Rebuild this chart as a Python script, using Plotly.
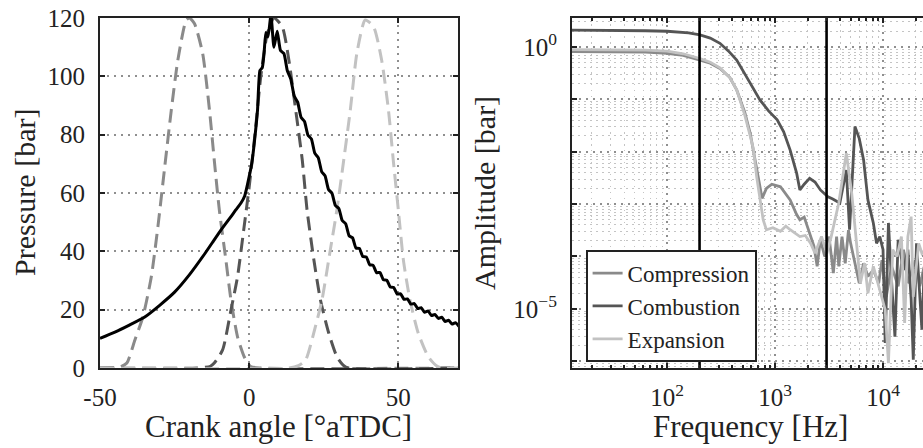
import numpy as np
import plotly.graph_objects as go

# ---------------- Left panel data (crank angle vs pressure) ----------------
pressure_angle = [-50, -45, -40, -35, -30, -25, -20, -15, -12, -10, -8, -6.1, -4.5, -2.8, -1.5,
                  0, 1, 1.7, 2.8, 3.6, 4.4, 5.0, 5.6, 6.3, 7.3, 8.3, 9.4,
                  10.5, 11.65, 12.8, 13.95, 15.1, 16.25, 17.4, 18.55, 19.7, 20.85, 22.0, 23.15,
                  24.3, 25.45, 26.6, 27.75, 28.9, 30.05, 31.2, 32.35, 33.5, 34.65, 35.8, 36.95,
                  38.1, 39.25, 40.4, 41.55, 42.7, 43.85, 45.0, 46.15, 47.3, 48.45, 49.6, 50.75,
                  51.9, 53.05, 54.2, 55.35, 56.5, 57.65, 58.8, 59.95, 61.1, 62.25, 63.4, 64.55,
                  65.7, 66.85, 68.0, 69.15, 70.3]
pressure_bar = [10.2, 12.3, 14.8, 17.5, 21.5, 26, 32, 39, 43.5, 46.5, 49.3, 51.9, 54.2, 56.5, 59,
                65.6, 71, 77, 88.4, 102, 103, 108, 115, 113.5, 121, 110, 115.5,
                108.85, 107.8, 101.9, 99.1, 93.25, 91.15, 85.9, 84.5, 79.85, 78.55, 73.65, 72.15,
                67.35, 65.85, 61.2, 59.9, 55.7, 54.7, 50.55, 49.45, 45.35, 44.65, 41.15, 41.0,
                38.2, 38.1, 35.4, 35.2, 32.7, 32.75, 30.25, 30.1, 27.75, 27.6, 25.35, 25.45,
                23.55, 23.7, 21.9, 22.1, 20.4, 20.7, 19.1, 19.55, 18.0, 18.35, 17.0, 17.4,
                15.95, 16.4, 15.05, 15.55, 14.25]

win_comp_angle = [-50, -46, -43, -41, -38.3, -35.6, -32.8, -30.6, -28.3, -26.1, -23.9, -21.1, -20,
                  -18.3, -15.6, -13.3, -11.7, -10, -7.8, -6.1, -3.9, -1.5, 0.5, 4, 70]
win_comp_val = [0, 0, 0.5, 1.7, 9.6, 17.6, 31.3, 48.4, 69, 88.4, 105.6, 119.3, 120,
                118, 107.9, 88.4, 71.3, 54.2, 37, 23.3, 10.7, 3.5, 0.5, 0, 0]

win_comb_angle = [-50, -17.3, -13, -11.7, -8.9, -6.1, -3.9, -1.7, 0, 2.2, 3.9, 6.1, 8.3,
                  11.1, 13.3, 15.6, 17.8, 19.4, 21.7, 23.9, 26.7, 29.4, 31.5, 33.3, 70]
win_comb_val = [0, 0, 0.6, 1.7, 6.2, 19.9, 31.3, 48.4, 62, 82.7, 100, 114.7, 120,
                117, 105.6, 88.4, 71.3, 54.2, 37, 23.3, 11.9, 3.9, 1.0, 0, 0]

win_exp_angle = [-50, 13.3, 16.5, 18.9, 22.2, 24.4, 27.2, 29.4, 31.7, 33.9, 36.1, 38.9,
                 41.7, 44.4, 46.7, 48.3, 50, 51.7, 53.9, 56.7, 60, 62.5, 64.4, 70]
win_exp_val = [0, 0, 0.8, 2.7, 14.2, 23.3, 40.5, 54.2, 71.3, 88.4, 107.9, 119.3,
               117, 105.6, 88.4, 71.3, 54.2, 37, 23.3, 11.9, 3.9, 1.0, 0, 0]

# ---------------- Right panel data (log10 frequency / log10 amplitude) ----------------
comp_log_f = [1.12, 1.5, 1.8, 2.0, 2.15, 2.305, 2.4, 2.49, 2.58, 2.645, 2.72, 2.77, 2.82, 2.85,
              2.88, 2.92, 2.97, 3.05, 3.14, 3.20, 3.23, 3.27, 3.32, 3.36, 3.39, 3.42, 3.46,
              3.50, 3.54, 3.57, 3.59, 3.62, 3.65, 3.68, 3.70, 3.74, 3.78, 3.82, 3.86, 3.91,
              3.96, 3.99, 4.03, 4.08, 4.14, 4.19, 4.23, 4.30, 4.34, 4.38]
comp_log_a = [-0.09, -0.09, -0.10, -0.12, -0.16, -0.25, -0.31, -0.41, -0.58, -0.82, -1.25, -1.65,
              -2.25, -2.6, -2.89, -2.70, -2.62, -2.67, -2.92, -3.20, -3.30, -3.25, -3.56, -3.80,
              -4.19, -3.68, -4.0, -3.62, -4.32, -3.62, -4.19, -3.62, -4.13, -3.5, -3.75, -4.13,
              -4.51, -4.13, -4.38, -4.26, -4.51, -4.07, -4.77, -4.19, -4.57, -3.87, -4.51, -4.07,
              -4.57, -4.2]

comb_log_f = [1.12, 1.5, 1.8, 2.0, 2.2, 2.305, 2.4, 2.49, 2.57, 2.645, 2.71, 2.77, 2.86, 2.94,
              3.02, 3.08, 3.14, 3.20, 3.23, 3.27, 3.32, 3.37, 3.42, 3.49, 3.53, 3.57, 3.60,
              3.66, 3.69, 3.74, 3.78, 3.82, 3.86, 3.91, 3.94, 3.97, 4.00, 4.02, 4.05, 4.08,
              4.11, 4.14, 4.19, 4.23, 4.26, 4.28, 4.31, 4.36, 4.38]
comb_log_a = [0.32, 0.32, 0.31, 0.30, 0.27, 0.23, 0.17, 0.07, -0.08, -0.25, -0.47, -0.69, -1.01,
              -1.22, -1.39, -1.62, -1.97, -2.41, -2.73, -2.62, -2.51, -2.58, -2.73, -2.86, -2.90,
              -2.95, -2.98, -2.35, -3.49, -1.52, -1.75, -2.16, -2.92, -3.36, -3.75, -3.62, -3.87,
              -5.65, -3.36, -4.5, -5.53, -3.68, -4.26, -3.87, -4.8, -5.97, -3.75, -5.40, -4.3]

exp_log_f = [1.12, 1.5, 1.8, 2.0, 2.15, 2.305, 2.4, 2.49, 2.58, 2.645, 2.72, 2.77, 2.80, 2.83,
             2.86, 2.89, 2.92, 2.98, 3.05, 3.10, 3.14, 3.18, 3.23, 3.28, 3.33, 3.37, 3.43,
             3.48, 3.52, 3.59, 3.66, 3.71, 3.76, 3.79, 3.83, 3.86, 3.91, 3.97, 4.02, 4.05,
             4.09, 4.13, 4.17, 4.20, 4.23, 4.26, 4.28, 4.33, 4.36, 4.38]
exp_log_a = [-0.05, -0.05, -0.06, -0.08, -0.13, -0.22, -0.29, -0.40, -0.58, -0.82, -1.30, -1.70,
             -1.95, -2.48, -2.92, -3.30, -3.49, -3.45, -3.52, -3.42, -3.49, -3.55, -3.62, -3.60,
             -3.75, -3.94, -3.62, -3.94, -3.62, -2.98, -2.03, -2.79, -3.87, -4.51, -4.13, -4.70,
             -4.19, -4.64, -5.02, -6.04, -3.87, -4.0, -3.62, -5.27, -3.62, -3.24, -4.77, -3.75,
             -3.94, -3.9]

cutoff_freqs_hz = [200, 3000]

series_names = ["Compression", "Combustion", "Expansion"]
series_colors = ["#8a8a8a", "#555555", "#c2c2c2"]

FONT = "Liberation Serif"
W, H = 923, 448
ML, MR, MT, MB = 0, 0, 18, 80
PH = H - MT - MB

fig = go.Figure()

# Left panel windows
for ang, val, col in [(win_comp_angle, win_comp_val, series_colors[0]),
                      (win_comb_angle, win_comb_val, series_colors[1]),
                      (win_exp_angle, win_exp_val, series_colors[2])]:
    fig.add_trace(go.Scatter(x=ang, y=val, mode="lines", showlegend=False,
                             line=dict(color=col, width=3, dash="14px,7px", shape="spline", smoothing=0.6),
                             xaxis="x", yaxis="y"))
fig.add_trace(go.Scatter(x=pressure_angle, y=pressure_bar, mode="lines", showlegend=False,
                         line=dict(color="#000000", width=3, shape="spline", smoothing=0.5),
                         xaxis="x", yaxis="y"))

# Right panel spectra
for lf, la, name, col in [(comp_log_f, comp_log_a, series_names[0], series_colors[0]),
                          (comb_log_f, comb_log_a, series_names[1], series_colors[1]),
                          (exp_log_f, exp_log_a, series_names[2], series_colors[2])]:
    fig.add_trace(go.Scatter(x=10 ** np.array(lf), y=10 ** np.array(la), mode="lines", name=name,
                             line=dict(color=col, width=2.8), xaxis="x2", yaxis="y2"))

for fc in cutoff_freqs_hz:
    fig.add_trace(go.Scatter(x=[fc, fc], y=[1e-8, 1e2], mode="lines", showlegend=False,
                             line=dict(color="#000000", width=2.6), xaxis="x2", yaxis="y3"))

tickfont = dict(family=FONT, size=25, color="#222222")
axis_common = dict(showline=True, linecolor="#222222", linewidth=2.2, ticks="inside",
                   ticklen=5, tickwidth=1.5, tickcolor="#222222", mirror="ticks",
                   zeroline=False, tickfont=tickfont, showgrid=True, automargin=False,
                   gridcolor="#8f8f8f", gridwidth=1.6, griddash="2px,5px")

minor_x = [m * 10 ** e for e in range(1, 5) for m in range(2, 10)]
minor_y = [m * 10.0 ** e for e in range(-7, 1) for m in range(2, 10)]
decades_y = [1e-6, 1e-5, 1e-4, 1e-3, 1e-2, 1e-1, 1]

fig.update_layout(
    width=W, height=H, margin=dict(l=ML, r=MR, t=MT, b=MB, autoexpand=False),
    paper_bgcolor="white", plot_bgcolor="white",
    font=dict(family=FONT, color="#222222"),
    xaxis=dict(domain=[100 / W, 458 / W], range=[-50, 70], tickmode="array",
               tickvals=[-50, 0, 50], ticktext=["-50", "0", "50"], anchor="y",
               ticklabelstandoff=6, **axis_common),
    yaxis=dict(domain=[0, 1], range=[0, 120], tickmode="array",
               tickvals=[0, 20, 40, 60, 80, 100, 120], anchor="x",
               ticklabelstandoff=8, **axis_common),
    xaxis2=dict(domain=[572 / W, 1.0], type="log", range=[1.12, 4.37], anchor="y2",
                tickmode="array", tickvals=[100, 1000, 10000],
                ticktext=["10<sup>2</sup>", "10<sup>3</sup>", "10<sup>4</sup>"],
                ticklabelstandoff=6,
                minor=dict(tickmode="array", tickvals=minor_x, ticks="inside", ticklen=3,
                           tickcolor="#222222", showgrid=True, gridcolor="#c4c4c4",
                           gridwidth=1.2, griddash="1.5px,4.5px"),
                **axis_common),
    yaxis2=dict(domain=[0, 1], type="log", range=[-6.13, 0.553], anchor="x2",
                tickmode="array", tickvals=[1e-5, 1],
                ticktext=["10<sup>−5</sup>", "10<sup>0</sup>"],
                ticklabelstandoff=8,
                minor=dict(tickmode="array", tickvals=minor_y, showgrid=True,
                           gridcolor="#c4c4c4", gridwidth=1.2, griddash="1.5px,4.5px"),
                showline=True, linecolor="#222222", linewidth=2.2, ticks="",
                mirror=False, automargin=False,
                zeroline=False, tickfont=tickfont, showgrid=False),
    yaxis3=dict(domain=[0, 1], type="log", range=[-6.13, 0.553], anchor="x2",
                overlaying="y2", side="left", tickmode="array", tickvals=decades_y,
                showticklabels=False, ticks="inside", ticklen=5, tickwidth=1.5,
                tickcolor="#222222", showline=False, mirror=False, automargin=False,
                zeroline=False, showgrid=True,
                gridcolor="#8f8f8f", gridwidth=1.6, griddash="2px,5px"),
    legend=dict(x=586 / W, y=(PH - (250 - MT)) / PH, xanchor="left", yanchor="top",
                bgcolor="white", bordercolor="#222222", borderwidth=1.6,
                font=dict(family=FONT, size=23, color="#222222"),
                tracegroupgap=0, itemwidth=30),
    showlegend=True,
)

title_font = dict(family=FONT, size=31, color="#222222")
ann = [
    dict(text="Pressure [bar]", x=24 / W, y=0.5, textangle=-90, size=30),
    dict(text="Crank angle [°aTDC]", x=278 / W, y=(368 - 426) / PH, textangle=0, size=31),
    dict(text="Amplitude [bar]", x=484 / W, y=0.5, textangle=-90, size=30),
    dict(text="Frequency [Hz]", x=750 / W, y=(368 - 426) / PH, textangle=0, size=31),
]
for a in ann:
    sz = a.pop("size")
    fig.add_annotation(xref="paper", yref="paper", showarrow=False, xanchor="center",
                       yanchor="middle", font=dict(family=FONT, size=sz, color="#222222"), **a)

fig.write_html("out.html")
